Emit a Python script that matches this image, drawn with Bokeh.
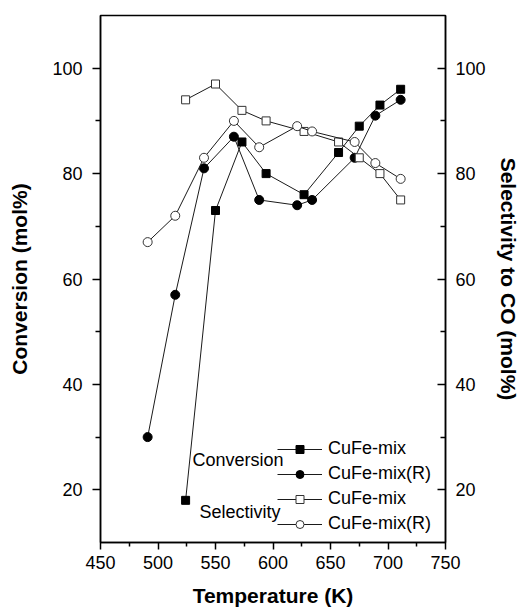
from bokeh.plotting import figure
from bokeh.models import (LinearAxis, FixedTicker, Legend, LegendItem, Label, Range1d)
from bokeh.embed import file_html
from bokeh.resources import INLINE

# ---- data ----
T_mix = [524, 550, 573, 594, 627, 657, 675, 693, 711]
conv_mix = [18, 73, 86, 80, 76, 84, 89, 93, 96]
sel_mix = [94, 97, 92, 90, 88, 86, 83, 80, 75]

T_mixR = [491, 515, 540, 566, 588, 621, 634, 671, 689, 711]
conv_mixR = [30, 57, 81, 87, 75, 74, 75, 83, 91, 94]
sel_mixR = [67, 72, 83, 90, 85, 89, 88, 86, 82, 79]

x_ticks = [450, 500, 550, 600, 650, 700, 750]
x_minor = [475, 525, 575, 625, 675, 725]
y_ticks = [20, 40, 60, 80, 100]
y_minor = [30, 50, 70, 90]

x_title = "Temperature (K)"
y_title = "Conversion (mol%)"
y2_title = "Selectivity to CO (mol%)"

FONT = "Liberation Sans"
LC = "#1a1a1a"

p = figure(width=529, height=613, output_backend="svg", toolbar_location=None,
           x_range=Range1d(450, 750), y_range=Range1d(10, 110),
           min_border_left=100, min_border_right=84, min_border_top=15,
           min_border_bottom=71, x_axis_label=x_title, y_axis_label=y_title)
p.grid.visible = False
p.outline_line_color = "black"
p.outline_line_width = 1.5
p.background_fill_color = "white"
p.border_fill_color = "white"

# right axis
ra = LinearAxis(axis_label=y2_title)
p.add_layout(ra, "right")

for ax in [p.xaxis[0], p.yaxis[0], ra]:
    ax.axis_line_width = 1.5
    ax.axis_line_color = "black"
    ax.major_tick_line_width = 1.5
    ax.minor_tick_line_width = 1.5
    ax.major_label_text_font = FONT
    ax.major_label_text_font_size = "18px"
    ax.major_label_text_color = "black"
    ax.axis_label_text_font = FONT
    ax.axis_label_text_font_style = "bold"
    ax.axis_label_text_font_size = "21px"
    ax.axis_label_text_color = "black"

p.xaxis[0].ticker = FixedTicker(ticks=x_ticks, minor_ticks=x_minor)
p.xaxis[0].major_tick_out = 7
p.xaxis[0].major_tick_in = 0
p.xaxis[0].minor_tick_out = 4
p.xaxis[0].minor_tick_in = 0
p.xaxis[0].major_label_standoff = 6
p.xaxis[0].axis_label_standoff = 12

p.yaxis[0].ticker = FixedTicker(ticks=y_ticks, minor_ticks=y_minor)
p.yaxis[0].major_tick_out = 8
p.yaxis[0].major_tick_in = 0
p.yaxis[0].minor_tick_out = 5
p.yaxis[0].minor_tick_in = 0
p.yaxis[0].major_label_standoff = 10
p.yaxis[0].axis_label_standoff = 18

ra.ticker = FixedTicker(ticks=y_ticks, minor_ticks=y_minor)
ra.major_tick_out = 0
ra.major_tick_in = 8
ra.minor_tick_out = 0
ra.minor_tick_in = 5
ra.major_label_standoff = 10
ra.axis_label_standoff = 8
ra.axis_label_orientation = "vertical"

# ---- series ----
l1 = p.line(T_mix, conv_mix, line_color=LC, line_width=1)
s1 = p.scatter(T_mix, conv_mix, marker="square", size=8, fill_color="black",
               line_color="black")
l2 = p.line(T_mixR, conv_mixR, line_color=LC, line_width=1)
s2 = p.scatter(T_mixR, conv_mixR, marker="circle", size=9, fill_color="black",
               line_color="black")
l3 = p.line(T_mix, sel_mix, line_color=LC, line_width=1)
s3 = p.scatter(T_mix, sel_mix, marker="square", size=8, fill_color="white",
               line_color="#333333", line_width=1)
l4 = p.line(T_mixR, sel_mixR, line_color=LC, line_width=1)
s4 = p.scatter(T_mixR, sel_mixR, marker="circle", size=9, fill_color="white",
               line_color="#333333", line_width=1)

legend = Legend(items=[
    LegendItem(label="CuFe-mix", renderers=[l1, s1]),
    LegendItem(label="CuFe-mix(R)", renderers=[l2, s2]),
    LegendItem(label="CuFe-mix", renderers=[l3, s3]),
    LegendItem(label="CuFe-mix(R)", renderers=[l4, s4]),
], location=(177, 8))
legend.padding = 0
legend.margin = 0
legend.spacing = 4
legend.glyph_width = 45
legend.glyph_height = 20
legend.label_height = 20
legend.label_standoff = 6
legend.label_text_font = FONT
legend.label_text_font_size = "18px"
legend.label_text_color = "black"
legend.border_line_alpha = 0
legend.background_fill_alpha = 0
p.add_layout(legend)

p.add_layout(Label(x=530, y=25.7, text="Conversion", text_font=FONT,
                   text_font_size="18px", text_baseline="middle",
                   text_color="black"))
p.add_layout(Label(x=536, y=15.8, text="Selectivity", text_font=FONT,
                   text_font_size="18px", text_baseline="middle",
                   text_color="black"))

open("out.html", "w").write(file_html(p, INLINE))
